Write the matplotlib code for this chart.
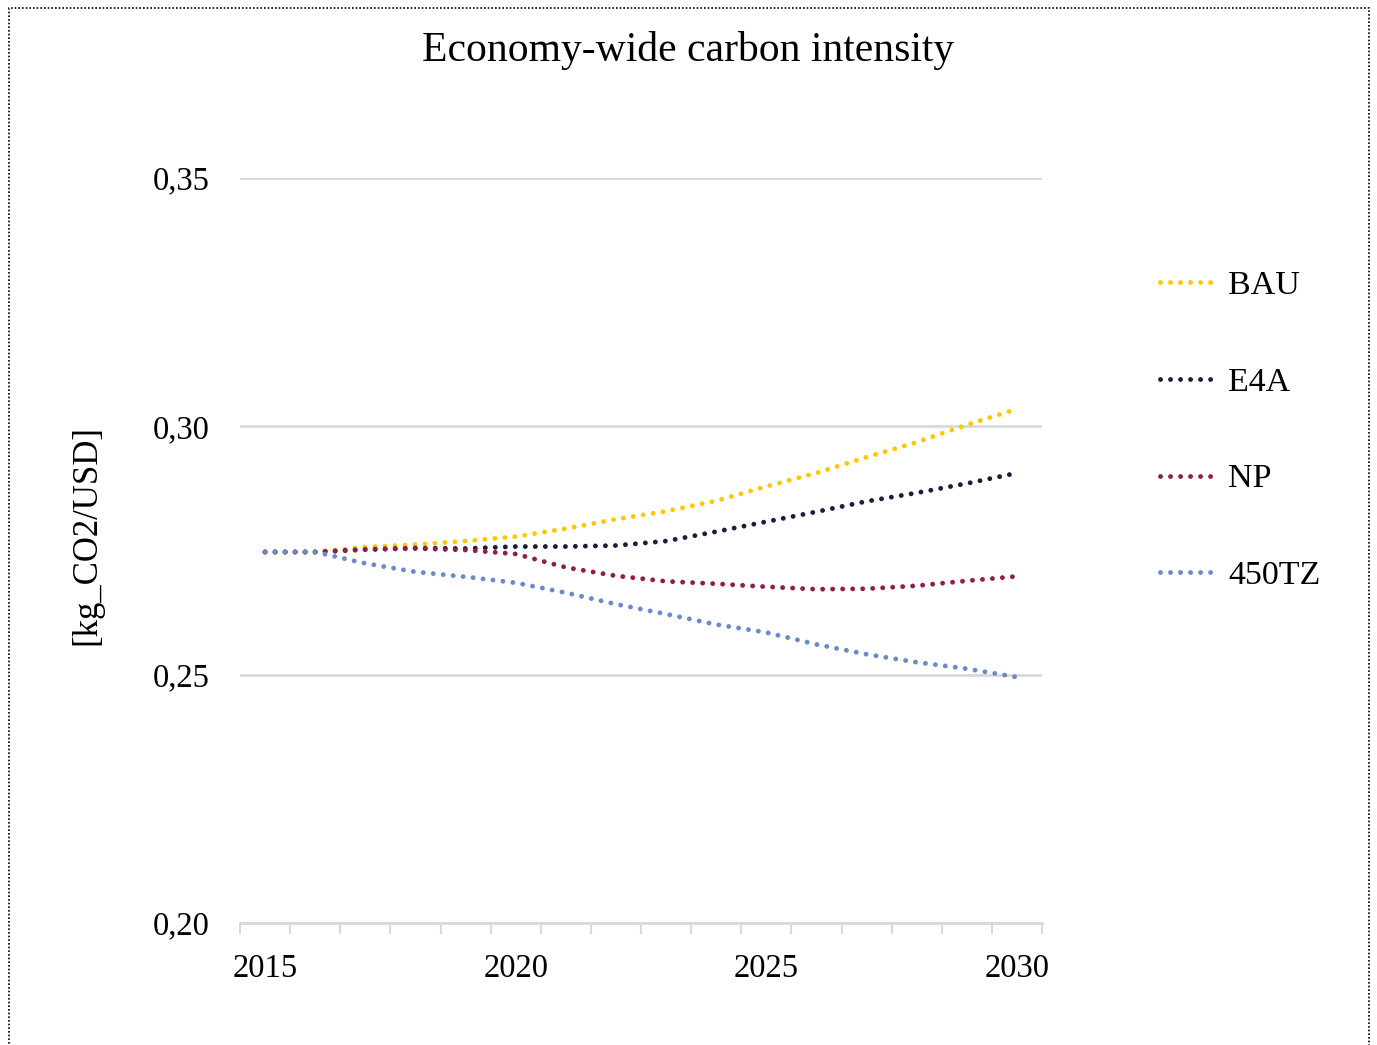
import matplotlib
matplotlib.use("Agg")
import matplotlib.pyplot as plt
from matplotlib.patches import Rectangle
import numpy as np

years = list(range(2015, 2031))
bau = [0.2747, 0.2747, 0.2757, 0.2762, 0.2769, 0.2778, 0.2794, 0.2813,
       0.2829, 0.2850, 0.2879, 0.2906, 0.2938, 0.2968, 0.3003, 0.3035]
e4a = [0.2747, 0.2747, 0.2752, 0.2755, 0.2754, 0.2758, 0.2758, 0.2760,
       0.2769, 0.2788, 0.2808, 0.2828, 0.2849, 0.2866, 0.2885, 0.2906]
np_ = [0.2747, 0.2747, 0.2752, 0.2754, 0.2751, 0.2743, 0.2716, 0.2699,
       0.2688, 0.2683, 0.2677, 0.2672, 0.2673, 0.2679, 0.2689, 0.2698]
tz450 = [0.2747, 0.2747, 0.2724, 0.2707, 0.2697, 0.2685, 0.2665, 0.2642,
         0.2622, 0.2601, 0.2585, 0.2561, 0.2541, 0.2525, 0.2512, 0.2495]
names = ["BAU", "E4A", "NP", "450TZ"]
colors = ["#FFC800", "#1A1D3E", "#8E1E4E", "#6A8AC8"]

plt.rcParams['font.family'] = ['Liberation Serif', 'DejaVu Serif']

fig = plt.figure(figsize=(13.77, 10.45), dpi=100)
ax = fig.add_axes([240 / 1377, 1 - 923 / 1045, 802 / 1377, 745 / 1045])

x = np.arange(len(years))
for vals, name, c in zip([bau, e4a, np_, tz450], names, colors):
    ax.plot(x, vals, color=c, lw=3.5, linestyle=(0, (0.01, 2.05)),
            dash_capstyle='round', label=name, zorder=3)

ax.set_xlim(-0.5, len(years) - 0.5)
ax.set_ylim(0.20, 0.35)
ax.set_yticks([0.20, 0.25, 0.30, 0.35])
ax.set_yticklabels(["0,20", "0,25", "0,30", "0,35"])
ax.yaxis.grid(True, color="#D9D9D9", lw=2)
ax.set_axisbelow(True)
ax.tick_params(axis='y', length=0, pad=22, labelsize=23.5)

ax.set_xticks([0, 5, 10, 15])
ax.set_xticklabels(["2015", "2020", "2025", "2030"])
ax.set_xticks(np.arange(-0.5, len(years)), minor=True)
ax.tick_params(axis='x', which='major', length=0, pad=22, labelsize=23.5)
ax.tick_params(axis='x', which='minor', length=8, width=1.5, color="#D9D9D9")

for s in ['top', 'right', 'left']:
    ax.spines[s].set_visible(False)
ax.spines['bottom'].set_color("#D9D9D9")
ax.spines['bottom'].set_linewidth(2)

ax.set_ylabel("[kg_CO2/USD]", fontsize=25)
ax.yaxis.set_label_coords(-0.170, 0.521)
fig.text(0.5, 1 - 50 / 1045, "Economy-wide carbon intensity", ha='center',
         va='center', fontsize=30)

leg = ax.legend(loc='upper left', frameon=False, fontsize=24.5,
                handlelength=1.65, labelspacing=1.94, handletextpad=0.35,
                borderpad=0.0, borderaxespad=0.0)
leg.set_bbox_to_anchor((1160 / 1377, 1 - 270 / 1045), transform=fig.transFigure)

fig.patches.append(Rectangle((9 / 1377, -0.05), 1360 / 1377, 1.05 - 8 / 1045,
                             transform=fig.transFigure, fill=False,
                             ec='black', lw=1.2, linestyle=(0, (1, 1.2))))

fig.savefig("out.png", dpi=100)
